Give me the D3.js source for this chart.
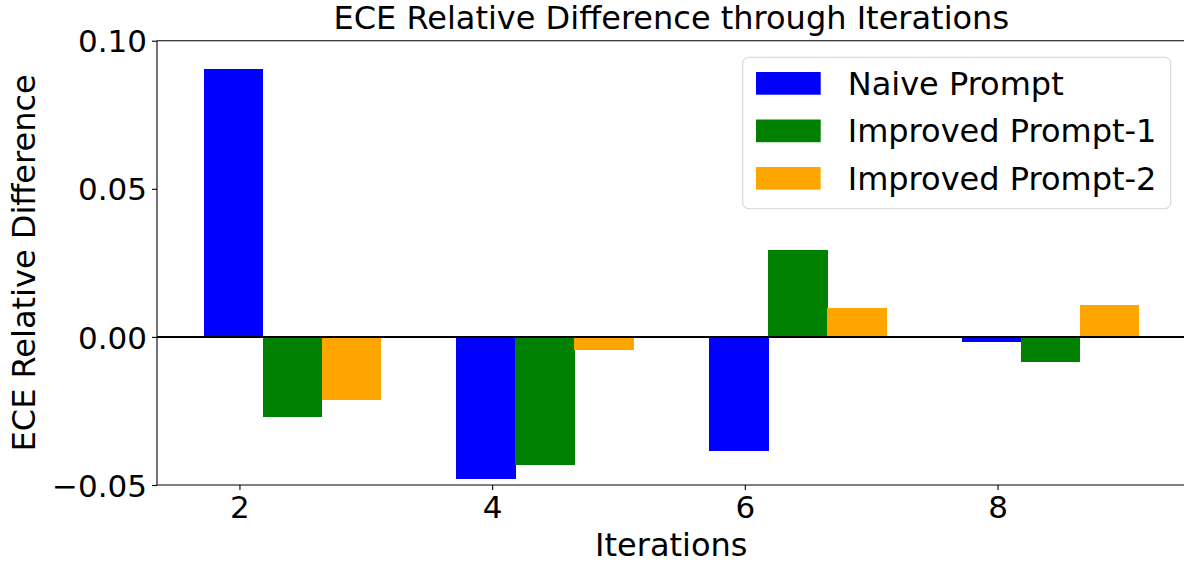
<!DOCTYPE html>
<html>
<head>
<meta charset="utf-8">
<script src="https://cdn.jsdelivr.net/npm/d3@7"></script>
<style>
  html, body { margin: 0; padding: 0; background: #fff; }
  svg { display: block; font-family: "DejaVu Sans", sans-serif; }
</style>
</head>
<body>
<svg id="chart" width="1184" height="563"></svg>
<script>
// ---- data ----
const iterations = [2, 4, 6, 8];
const seriesNames = ["Naive Prompt", "Improved Prompt-1", "Improved Prompt-2"];
const naivePrompt = [0.0906, -0.0479, -0.0386, -0.0018];
const improvedPrompt1 = [-0.0269, -0.0434, 0.0295, -0.0086];
const improvedPrompt2 = [-0.0214, -0.0043, 0.0099, 0.0109];
const yTicks = [-0.05, 0.00, 0.05, 0.10];
const xTicks = [2, 4, 6, 8];
const seriesColors = ["#0000ff", "#008000", "#ffa500"];

const seriesValues = [naivePrompt, improvedPrompt1, improvedPrompt2];

(function () {
// ---- layout ----
const svg = d3.select("#chart");
const pLeft = 157, pRight = 1185.5, pTop = 40.7, pBottom = 485;
const barW = 1.4 / 3;
const firstOffset = -0.049 - barW / 2; // left edge of first bar relative to tick

const x = d3.scaleLinear().domain([1.3474, 9.488]).range([pLeft, pRight]);
const y = d3.scaleLinear().domain([-0.05, 0.10]).range([pBottom, pTop]);

const fontSize = 32;
const tickFont = 31;

// bars
seriesValues.forEach((vals, si) => {
  svg.append("g").attr("shape-rendering", "crispEdges").selectAll("rect")
    .data(vals.map((v, i) => ({ it: iterations[i], v })))
    .join("rect")
    .attr("x", d => x(d.it + firstOffset + si * barW))
    .attr("width", d => x(d.it + firstOffset + (si + 1) * barW) - x(d.it + firstOffset + si * barW) + 0.5)
    .attr("y", d => y(Math.max(0, d.v)))
    .attr("height", d => Math.abs(y(d.v) - y(0)))
    .attr("fill", seriesColors[si]);
});

// zero line
svg.append("line")
  .attr("x1", pLeft).attr("x2", pRight)
  .attr("y1", y(0)).attr("y2", y(0))
  .attr("stroke", "#000").attr("stroke-width", 2);

// axes
const fmt = d => (d < 0 ? "\u2212" : "") + Math.abs(d).toFixed(2);
const yAxis = d3.axisLeft(y).tickValues(yTicks).tickFormat(fmt).tickSize(5).tickPadding(5);
const xAxis = d3.axisBottom(x).tickValues(xTicks).tickFormat(d3.format("d")).tickSize(5).tickPadding(5);

const gy = svg.append("g").attr("transform", `translate(${pLeft},0)`).call(yAxis);
const gx = svg.append("g").attr("transform", `translate(0,${pBottom})`).call(xAxis);
[gx, gy].forEach(g => {
  g.select(".domain").remove();
  g.selectAll(".tick line").attr("stroke", "#000").attr("stroke-width", 1.1);
  g.selectAll(".tick text").attr("font-size", tickFont).attr("fill", "#000")
    .attr("font-family", "DejaVu Sans");
});
gy.selectAll(".tick text").attr("dy", "0.36em");
gx.selectAll(".tick text").attr("dy", "0.74em");

// spines
const spine = svg.append("g").attr("stroke", "#000").attr("stroke-width", 1.1).attr("fill", "none");
spine.append("line").attr("x1", pLeft).attr("x2", pLeft).attr("y1", pTop).attr("y2", pBottom);
spine.append("line").attr("x1", pRight).attr("x2", pRight).attr("y1", pTop).attr("y2", pBottom);
spine.append("line").attr("x1", pLeft).attr("x2", pRight).attr("y1", pTop).attr("y2", pTop);
spine.append("line").attr("x1", pLeft).attr("x2", pRight).attr("y1", pBottom).attr("y2", pBottom);

// title
svg.append("text")
  .attr("x", (pLeft + pRight) / 2).attr("y", 29)
  .attr("text-anchor", "middle").attr("font-size", fontSize).attr("fill", "#000")
  .text("ECE Relative Difference through Iterations");

// x label
svg.append("text")
  .attr("x", (pLeft + pRight) / 2).attr("y", 556)
  .attr("text-anchor", "middle").attr("font-size", fontSize).attr("fill", "#000")
  .text("Iterations");

// y label
svg.append("text")
  .attr("transform", `translate(35,${(pTop + pBottom) / 2}) rotate(-90)`)
  .attr("text-anchor", "middle").attr("font-size", fontSize).attr("fill", "#000")
  .text("ECE Relative Difference");

// legend
const lg = svg.append("g");
lg.append("rect")
  .attr("x", 742.7).attr("y", 57.3).attr("width", 428).attr("height", 151.4)
  .attr("rx", 6).attr("ry", 6)
  .attr("fill", "#fff").attr("fill-opacity", 0.8)
  .attr("stroke", "#d6d6d6").attr("stroke-width", 1.1);
const rowY = [83.3, 130.8, 178.3];
seriesNames.forEach((name, i) => {
  lg.append("rect")
    .attr("x", 756).attr("y", rowY[i] - 11.3).attr("width", 64.7).attr("height", 22.7)
    .attr("fill", seriesColors[i]);
  lg.append("text")
    .attr("x", 847.7).attr("y", rowY[i]).attr("dy", "0.36em")
    .attr("font-size", fontSize).attr("fill", "#000")
    .text(name);
});
})();
</script>
</body>
</html>
